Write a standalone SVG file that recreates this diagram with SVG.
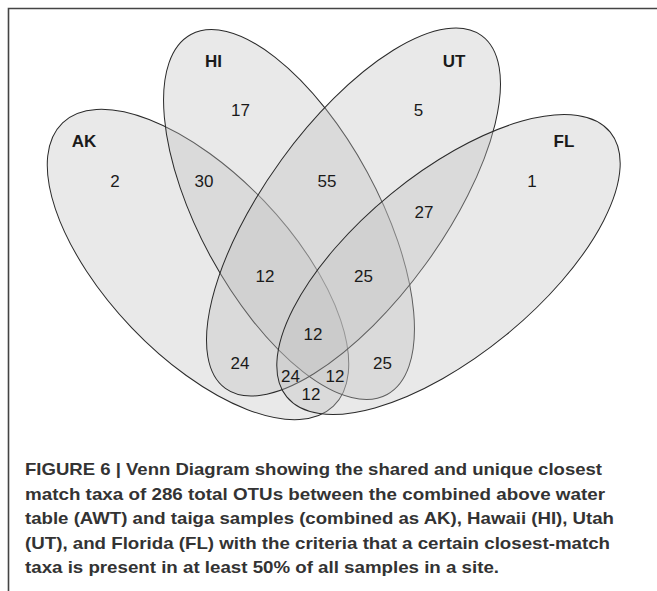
<svg xmlns="http://www.w3.org/2000/svg" width="657" height="591" viewBox="0 0 657 591">
<style>
.set{fill:#c0c0c0;fill-opacity:0.35;stroke:#2a2a2a;stroke-width:1}
.lab{font-family:"Liberation Sans",Arial,Helvetica,sans-serif;font-weight:bold;font-size:17px;fill:#1a1a1a;text-anchor:middle}
.num{font-family:"Liberation Sans",Arial,Helvetica,sans-serif;font-size:17px;fill:#1a1a1a;text-anchor:middle}
.cap{font-family:"Liberation Sans",Arial,Helvetica,sans-serif;font-weight:bold;font-size:16.5px;fill:#333333}
</style>
<rect width="657" height="591" fill="#ffffff"/>
<path d="M8.5,591 V8.5 H657" fill="none" stroke="#444" stroke-width="1.6"/>
<g id="AK">
<ellipse class="set" cx="198" cy="264.5" rx="196" ry="91.6" transform="rotate(46.3 198 264.5)"/>
<text class="lab" x="84" y="147">AK</text>
</g>
<g id="HI">
<ellipse class="set" cx="289" cy="214.5" rx="205" ry="89" transform="rotate(61.4 289 214.5)"/>
<text class="lab" x="213.5" y="67">HI</text>
</g>
<g id="UT">
<ellipse class="set" cx="353.5" cy="212" rx="218" ry="89" transform="rotate(126 353.5 212)"/>
<text class="lab" x="454" y="67">UT</text>
</g>
<g id="FL">
<ellipse class="set" cx="448.5" cy="264.5" rx="209" ry="91" transform="rotate(140.7 448.5 264.5)"/>
<text class="lab" x="564" y="147">FL</text>
</g>
<g id="connectors"/>
<g id="counts">
<text class="num" x="115" y="187">2</text>
<text class="num" x="204" y="187">30</text>
<text class="num" x="240.5" y="116">17</text>
<text class="num" x="418.5" y="116">5</text>
<text class="num" x="327" y="187">55</text>
<text class="num" x="532" y="187">1</text>
<text class="num" x="424" y="218">27</text>
<text class="num" x="265" y="282">12</text>
<text class="num" x="363.5" y="282">25</text>
<text class="num" x="313" y="340">12</text>
<text class="num" x="240" y="369">24</text>
<text class="num" x="382.5" y="369">25</text>
<text class="num" x="290.5" y="382">24</text>
<text class="num" x="335" y="382">12</text>
<text class="num" x="311" y="400">12</text>
</g>
<g id="caption">
<text class="cap" x="25" y="475" textLength="577" lengthAdjust="spacingAndGlyphs">FIGURE 6 | Venn Diagram showing the shared and unique closest</text>
<text class="cap" x="25" y="499.5" textLength="580" lengthAdjust="spacingAndGlyphs">match taxa of 286 total OTUs between the combined above water</text>
<text class="cap" x="25" y="524" textLength="589" lengthAdjust="spacingAndGlyphs">table (AWT) and taiga samples (combined as AK), Hawaii (HI), Utah</text>
<text class="cap" x="25" y="548.5" textLength="585" lengthAdjust="spacingAndGlyphs">(UT), and Florida (FL) with the criteria that a certain closest-match</text>
<text class="cap" x="25" y="573" textLength="474" lengthAdjust="spacingAndGlyphs">taxa is present in at least 50% of all samples in a site.</text>
</g>
</svg>
